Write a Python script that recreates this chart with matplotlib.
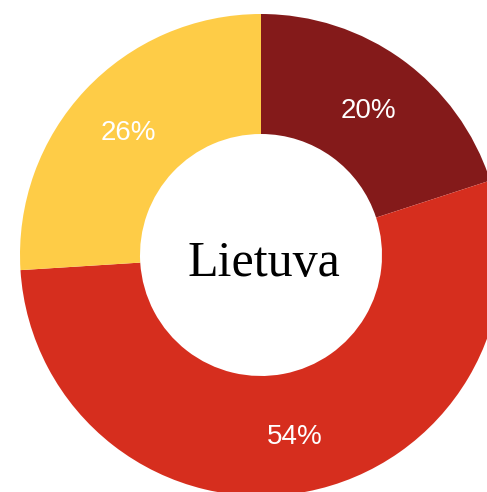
import matplotlib
matplotlib.use("Agg")
import matplotlib.pyplot as plt

labels = ["A", "B", "C"]
values = [20, 54, 26]
colors = ["#841A1A", "#D62E1E", "#FECC47"]
title = "Lietuva"

fig = plt.figure(figsize=(4.87, 4.92), dpi=100)
ax = fig.add_axes([0, 0, 1, 1])

wedges, texts, autotexts = ax.pie(
    values, colors=colors, startangle=90, counterclock=False,
    center=(261, 237), radius=241, frame=True,
    autopct="%d%%", pctdistance=0.755,
    wedgeprops=dict(width=120, linewidth=0),
    textprops=dict(color="white", fontsize=20, family="Liberation Sans"),
)
# nudge labels so the glyphs sit centred like the original
for t in autotexts:
    x, y = t.get_position()
    t.set_position((x, y - 3))

ax.set_xlim(0, 487)
ax.set_ylim(0, 492)
ax.set_aspect("equal")
ax.axis("off")

ax.text(264, 216, title, ha="center", va="baseline", fontsize=36,
        family="Liberation Serif", color="black")

fig.savefig("out.png", dpi=100)
